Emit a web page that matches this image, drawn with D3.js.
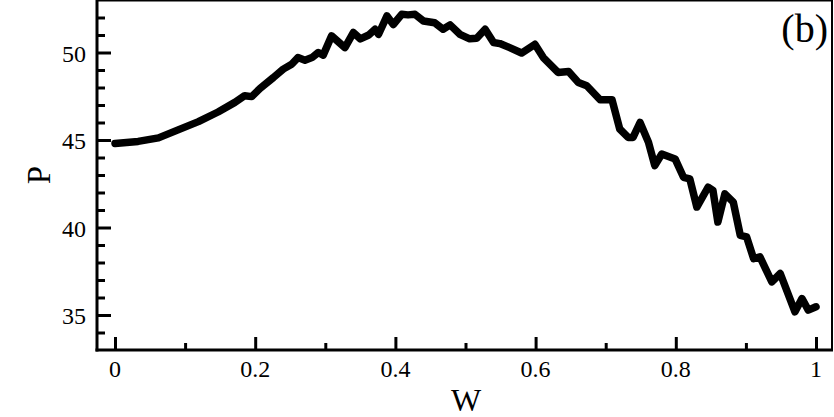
<!DOCTYPE html>
<html>
<head>
<meta charset="utf-8">
<script src="https://cdn.jsdelivr.net/npm/d3@7"></script>
<style>
  html, body { margin: 0; padding: 0; background: #fff; }
  svg { display: block; }
  text { font-family: "Liberation Serif", "DejaVu Serif", serif; fill: #000; }
</style>
</head>
<body>
<svg id="chart" width="834" height="417"></svg>
<script>
// ---- data ----
const W = [0.000, 0.033, 0.062, 0.090, 0.119, 0.147, 0.171, 0.185, 0.195, 0.207,
           0.226, 0.240, 0.252, 0.261, 0.271, 0.281, 0.290, 0.297, 0.309, 0.328,
           0.340, 0.350, 0.362, 0.371, 0.376, 0.388, 0.397, 0.409, 0.418, 0.428,
           0.440, 0.456, 0.468, 0.478, 0.492, 0.506, 0.516, 0.528, 0.540, 0.549,
           0.563, 0.580, 0.599, 0.611, 0.632, 0.647, 0.661, 0.673, 0.692, 0.709,
           0.720, 0.732, 0.739, 0.749, 0.761, 0.770, 0.780, 0.799, 0.811, 0.820,
           0.830, 0.846, 0.853, 0.860, 0.870, 0.882, 0.892, 0.901, 0.911, 0.920,
           0.937, 0.949, 0.970, 0.980, 0.989, 1.000];
const P = [44.80, 44.92, 45.12, 45.58, 46.05, 46.60, 47.15, 47.53, 47.48, 47.95,
           48.57, 49.05, 49.33, 49.71, 49.56, 49.71, 50.00, 49.85, 50.95, 50.28,
           51.14, 50.78, 51.00, 51.33, 51.04, 52.09, 51.60, 52.18, 52.15, 52.18,
           51.80, 51.70, 51.33, 51.58, 51.04, 50.78, 50.81, 51.33, 50.57, 50.51,
           50.28, 49.97, 50.47, 49.71, 48.86, 48.92, 48.29, 48.10, 47.30, 47.30,
           45.63, 45.15, 45.15, 46.00, 44.87, 43.54, 44.20, 43.92, 42.87, 42.78,
           41.17, 42.30, 42.12, 40.31, 41.92, 41.45, 39.55, 39.46, 38.22, 38.32,
           36.89, 37.37, 35.18, 35.94, 35.28, 35.47];
const xTickValues = [0, 0.2, 0.4, 0.6, 0.8, 1];
const xTickLabels = ["0", "0.2", "0.4", "0.6", "0.8", "1"];
const xMinorTicks = [0.1, 0.3, 0.5, 0.7, 0.9];
const yTickValues = [35, 40, 45, 50];
const yTickLabels = ["35", "40", "45", "50"];
const yMinorTicks = [34, 36, 37, 38, 39, 41, 42, 43, 44, 46, 47, 48, 49, 51, 52];
const xTitle = "W";
const yTitle = "P";
const panelLabel = "(b)";

// ---- layout ----
const plotLeft = 97, plotRight = 832, plotTop = 0.5, plotBottom = 350;
const svg = d3.select("#chart");

const x = d3.scaleLinear().domain([0, 1]).range([115, 816]);
const y = d3.scaleLinear().domain([33, 53]).range([plotBottom, 0]);

// frame: top and right thin lines
svg.append("path")
  .attr("d", `M${plotLeft},${plotTop} H${plotRight} V${plotBottom}`)
  .attr("fill", "none").attr("stroke", "#000").attr("stroke-width", 2);

// x axis (ticks pointing inward / up)
const gx = svg.append("g").attr("transform", `translate(0,${plotBottom})`);
gx.call(d3.axisTop(x).tickValues(xTickValues).tickSize(13).tickFormat(""));
gx.append("g").call(d3.axisTop(x).tickValues(xMinorTicks).tickSize(7).tickFormat(""));
gx.selectAll(".domain").remove();
gx.selectAll("line").attr("stroke", "#000").attr("stroke-width", 3);
gx.selectAll("text").remove();
gx.selectAll(".xlab").data(xTickValues).enter().append("text")
  .attr("class", "xlab")
  .attr("x", d => x(d)).attr("y", 27)
  .attr("text-anchor", "middle").attr("font-size", 24)
  .text((d, i) => xTickLabels[i]);

// y axis (ticks pointing inward / right)
const gy = svg.append("g").attr("transform", `translate(${plotLeft},0)`);
gy.call(d3.axisRight(y).tickValues(yTickValues).tickSize(14).tickFormat(""));
gy.append("g").call(d3.axisRight(y).tickValues(yMinorTicks).tickSize(8).tickFormat(""));
gy.selectAll(".domain").remove();
gy.selectAll("line").attr("stroke", "#000").attr("stroke-width", 3);
gy.selectAll("text").remove();
gy.selectAll(".ylab").data(yTickValues).enter().append("text")
  .attr("class", "ylab")
  .attr("x", -11).attr("y", d => y(d) + 9)
  .attr("text-anchor", "end").attr("font-size", 24)
  .text((d, i) => yTickLabels[i]);

// axis lines
svg.append("line").attr("x1", plotLeft).attr("x2", plotLeft).attr("y1", 0).attr("y2", plotBottom + 1.5)
  .attr("stroke", "#000").attr("stroke-width", 3);
svg.append("line").attr("x1", plotLeft - 1.5).attr("x2", plotRight + 1).attr("y1", plotBottom).attr("y2", plotBottom)
  .attr("stroke", "#000").attr("stroke-width", 3);

// titles
svg.append("text").attr("x", 466).attr("y", 411)
  .attr("text-anchor", "middle").attr("font-size", 32).text(xTitle);
svg.append("text").attr("transform", "translate(50,175) rotate(-90)")
  .attr("text-anchor", "middle").attr("font-size", 33).text(yTitle);
svg.append("text").attr("x", 828).attr("y", 42)
  .attr("text-anchor", "end").attr("font-size", 40).text(panelLabel);

// data line
const data = W.map((w, i) => ({ w, p: P[i] }));
svg.append("path").datum(data)
  .attr("fill", "none").attr("stroke", "#000").attr("stroke-width", 7.5)
  .attr("stroke-linejoin", "round").attr("stroke-linecap", "round")
  .attr("d", d3.line().x(d => x(d.w)).y(d => y(d.p)));
</script>
</body>
</html>
